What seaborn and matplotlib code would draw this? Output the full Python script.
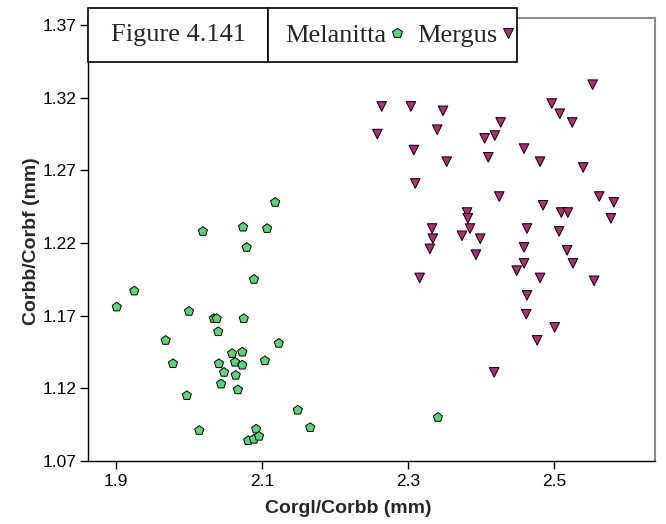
import numpy as np
import pandas as pd
import matplotlib
matplotlib.use('Agg')
import matplotlib.pyplot as plt
import matplotlib.patches as mpatches
import seaborn as sb

# values
melanitta_x = [1.901, 1.925, 1.968, 1.978, 1.997, 2.000, 2.014, 2.019, 2.034, 2.038,
               2.040, 2.041, 2.044, 2.048, 2.059, 2.063, 2.064, 2.067, 2.073, 2.073,
               2.074, 2.075, 2.079, 2.081, 2.089, 2.092, 2.096, 2.089, 2.104, 2.107,
               2.118, 2.123, 2.149, 2.166, 2.341]
melanitta_y = [1.176, 1.187, 1.153, 1.137, 1.115, 1.173, 1.091, 1.228, 1.168, 1.168,
               1.159, 1.137, 1.123, 1.131, 1.144, 1.138, 1.129, 1.119, 1.145, 1.136,
               1.231, 1.168, 1.217, 1.084, 1.085, 1.092, 1.087, 1.195, 1.139, 1.230,
               1.248, 1.151, 1.105, 1.093, 1.100]

mergus_x = [2.553, 2.264, 2.304, 2.348, 2.497, 2.508, 2.427, 2.525, 2.258, 2.340,
            2.405, 2.419, 2.308, 2.459, 2.353, 2.410, 2.481, 2.540, 2.310, 2.425,
            2.562, 2.582, 2.485, 2.381, 2.510, 2.519, 2.382, 2.578, 2.333, 2.385,
            2.463, 2.374, 2.399, 2.507, 2.334, 2.330, 2.459, 2.518, 2.393, 2.459,
            2.526, 2.449, 2.316, 2.481, 2.555, 2.463, 2.462, 2.501, 2.477, 2.418]
mergus_y = [1.329, 1.314, 1.314, 1.311, 1.316, 1.309, 1.303, 1.303, 1.295, 1.298,
            1.292, 1.294, 1.284, 1.285, 1.276, 1.279, 1.276, 1.272, 1.261, 1.252,
            1.252, 1.248, 1.246, 1.241, 1.241, 1.241, 1.237, 1.237, 1.230, 1.230,
            1.230, 1.225, 1.223, 1.228, 1.223, 1.216, 1.217, 1.215, 1.212, 1.206,
            1.206, 1.201, 1.196, 1.196, 1.194, 1.184, 1.171, 1.162, 1.153, 1.131]

x_ticks = [1.9, 2.1, 2.3, 2.5]
y_ticks = [1.07, 1.12, 1.17, 1.22, 1.27, 1.32, 1.37]

df = pd.DataFrame({
    'x': melanitta_x + mergus_x,
    'y': melanitta_y + mergus_y,
    'genus': ['Melanitta'] * len(melanitta_x) + ['Mergus'] * len(mergus_x),
})

sb.set_style('ticks')
plt.rcParams['font.family'] = ['Liberation Sans', 'DejaVu Sans']

W, H = 666, 524
fig = plt.figure(figsize=(W / 100, H / 100), dpi=100)
ax = fig.add_axes([88 / W, 1 - 461 / H, (655 - 88) / W, (461 - 18) / H])

sb.scatterplot(data=df, x='x', y='y', hue='genus', style='genus',
               palette={'Melanitta': '#5fd17a', 'Mergus': '#ad2f6c'},
               markers={'Melanitta': 'p', 'Mergus': 'v'},
               s=48, edgecolor='black', linewidth=0.7, ax=ax, legend=False)

ax.set_xlim(1.8616, 2.6384)
ax.set_ylim(1.07, 1.3749)
ax.set_xticks(x_ticks)
ax.set_yticks(y_ticks)
ax.set_xticklabels([f'{v:.1f}' for v in x_ticks])
ax.set_yticklabels([f'{v:.2f}' for v in y_ticks])
ax.tick_params(direction='out', length=6, width=1, colors='black', labelsize=12.5)
ax.tick_params(axis='y', pad=2)

for side in ['left', 'bottom']:
    ax.spines[side].set_color('black')
    ax.spines[side].set_linewidth(1.0)
for side in ['top', 'right']:
    ax.spines[side].set_visible(True)
    ax.spines[side].set_color('#8c8c8c')
    ax.spines[side].set_linewidth(1.5)

ax.set_xlabel('Corgl/Corbb (mm)', fontsize=14, fontweight='bold')
ax.set_ylabel('Corbb/Corbf (mm)', fontsize=14, fontweight='bold')
ax.xaxis.set_label_coords(0.459, -0.088)
ax.yaxis.set_label_coords(-0.084, 0.497)

# title and legend boxes on top of the frame
box1 = mpatches.Rectangle((88 / W, 1 - 62 / H), 180 / W, 54 / H, transform=fig.transFigure,
                          facecolor='white', edgecolor='black', linewidth=1.2, zorder=5)
box2 = mpatches.Rectangle((268 / W, 1 - 62 / H), 249 / W, 54 / H, transform=fig.transFigure,
                          facecolor='white', edgecolor='black', linewidth=1.2, zorder=5)
fig.add_artist(box1)
fig.add_artist(box2)
fig.text(178 / W, 1 - 35 / H, 'Figure 4.141', ha='center', va='center',
         family=['Liberation Serif'], fontsize=19, zorder=6)

handles = [
    plt.Line2D([], [], linestyle='none', marker='p', markersize=7,
               markerfacecolor='#5fd17a', markeredgecolor='black', markeredgewidth=0.7),
    plt.Line2D([], [], linestyle='none', marker='v', markersize=7,
               markerfacecolor='#ad2f6c', markeredgecolor='black', markeredgewidth=0.7),
]
leg = fig.legend(handles, ['Melanitta', 'Mergus'], loc='center',
                 bbox_to_anchor=(400 / W, 1 - 35 / H), ncol=2, frameon=False,
                 markerfirst=False, handlelength=0.5, handletextpad=0.15,
                 columnspacing=0.5, borderpad=0.2,
                 prop={'family': 'Liberation Serif', 'size': 19})
leg.set_zorder(7)

fig.savefig('out.png', dpi=100)
